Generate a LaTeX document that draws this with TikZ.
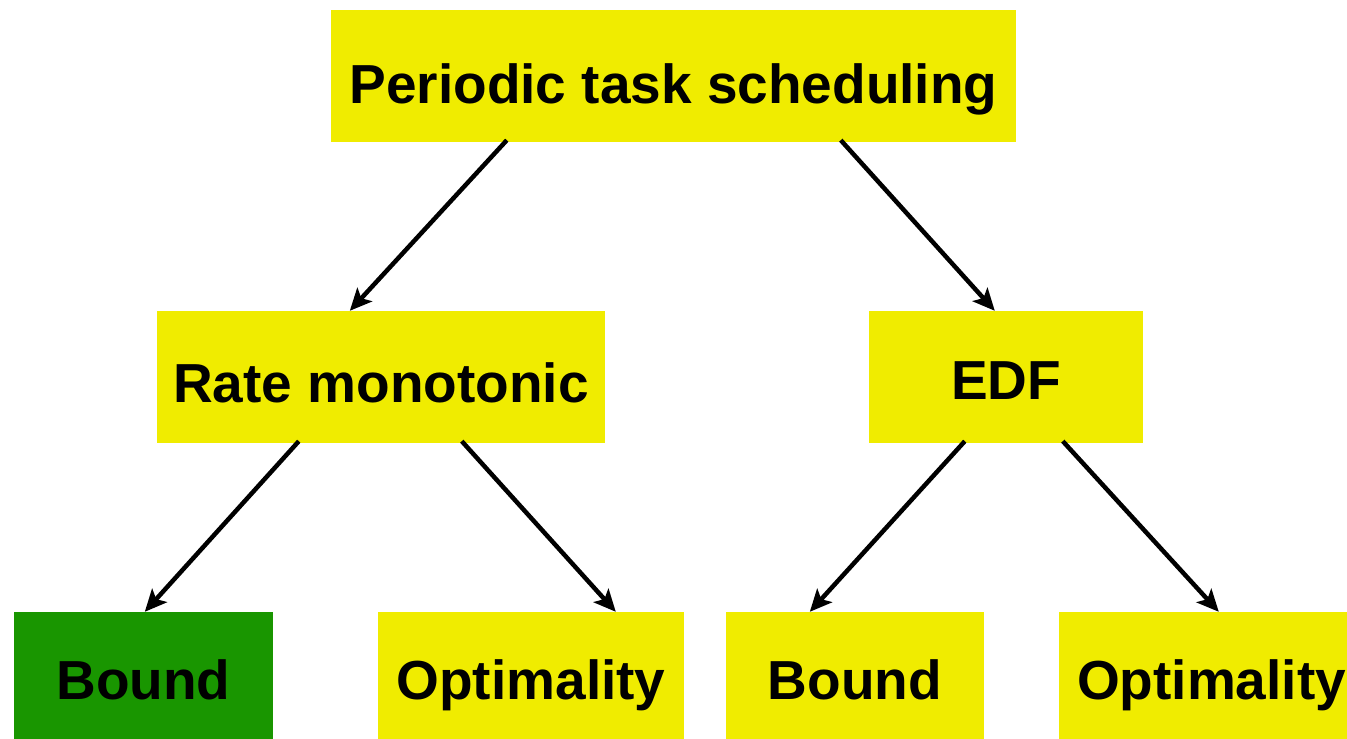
\documentclass[tikz,border=0pt]{standalone}
\usepackage{fontspec}
\setmainfont{Liberation Sans}
\usetikzlibrary{arrows.meta}
\definecolor{boxyellow}{RGB}{240,236,0}
\definecolor{boxgreen}{RGB}{25,150,0}
\begin{document}
\begin{tikzpicture}[x=1pt,y=1pt,
  box/.style={fill=boxyellow, draw=none, inner sep=0pt, text height=0pt, text depth=0pt,
    font=\fontsize{55}{60}\selectfont\bfseries},
  link/.style={line width=4.5pt, -{Stealth[length=22pt,width=20pt,inset=5pt]}}]
\useasboundingbox (0,0) rectangle (1347,-739);
\clip (0,0) rectangle (1347,-739);
% level 0
\node[box, minimum width=685pt, minimum height=132pt] (top) at (673.5,-76)
  {\raisebox{-27pt}{Periodic task scheduling}};
% level 1
\node[box, minimum width=448pt, minimum height=132pt] (rm) at (381,-377)
  {\raisebox{-25pt}{Rate monotonic}};
\node[box, minimum width=274pt, minimum height=132pt] (edf) at (1006,-377)
  {\raisebox{-22pt}{EDF}};
% level 2
\node[box, fill=boxgreen, minimum width=259pt, minimum height=131pt] (rmbound) at (143.5,-677.5)
  {\raisebox{-22pt}{Bound}};
\node[box, minimum width=306pt, minimum height=131pt] (rmopt) at (531,-677.5)
  {\raisebox{-22pt}{Optimality}};
\node[box, minimum width=258pt, minimum height=131pt] (edfbound) at (855,-677.5)
  {\raisebox{-22pt}{Bound}};
\node[box, minimum width=305pt, minimum height=131pt] (edfopt) at (1211.5,-677.5)
  {\raisebox{-22pt}{Optimality}};
% connectors
\draw[link] ([xshift=176pt,yshift=2pt]top.south west) -- ([xshift=193pt]rm.north west);
\draw[link] ([xshift=510pt,yshift=2pt]top.south west) -- ([xshift=126pt]edf.north west);
\draw[link] ([xshift=142pt,yshift=2pt]rm.south west) -- ([xshift=131pt]rmbound.north west);
\draw[link] ([xshift=305pt,yshift=2pt]rm.south west) -- ([xshift=238pt]rmopt.north west);
\draw[link] ([xshift=96pt,yshift=2pt]edf.south west) -- ([xshift=84pt]edfbound.north west);
\draw[link] ([xshift=194pt,yshift=2pt]edf.south west) -- ([xshift=160pt]edfopt.north west);
\end{tikzpicture}
\end{document}
